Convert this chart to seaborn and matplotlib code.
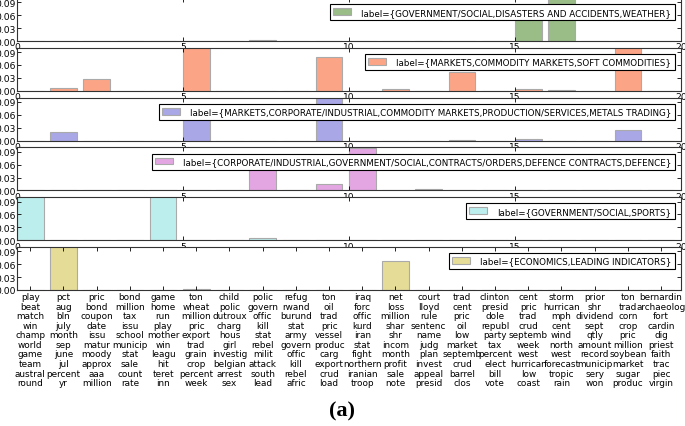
import matplotlib
matplotlib.use("Agg")
import matplotlib.pyplot as plt
from matplotlib.patches import Patch
import seaborn as sns

topics = list(range(20))

labels = [
    "label={GOVERNMENT/SOCIAL,DISASTERS AND ACCIDENTS,WEATHER}",
    "label={MARKETS,COMMODITY MARKETS,SOFT COMMODITIES}",
    "label={MARKETS,CORPORATE/INDUSTRIAL,COMMODITY MARKETS,PRODUCTION/SERVICES,METALS TRADING}",
    "label={CORPORATE/INDUSTRIAL,GOVERNMENT/SOCIAL,CONTRACTS/ORDERS,DEFENCE CONTRACTS,DEFENCE}",
    "label={GOVERNMENT/SOCIAL,SPORTS}",
    "label={ECONOMICS,LEADING INDICATORS}",
]

vals_weather = [0, 0, 0, 0, 0, 0, 0, 0.002, 0, 0, 0, 0, 0, 0, 0, 0.075, 0.14, 0, 0, 0]
vals_soft = [0, 0.006, 0.027, 0, 0, 0.14, 0, 0, 0, 0.079, 0, 0.005, 0, 0.043, 0, 0.005, 0.002, 0, 0.14, 0]
vals_metals = [0, 0.02, 0, 0, 0, 0.07, 0, 0, 0, 0.14, 0, 0, 0, 0.001, 0, 0.003, 0, 0, 0.024, 0]
vals_defence = [0, 0, 0, 0, 0, 0, 0, 0.07, 0, 0.016, 0.098, 0, 0.003, 0, 0.002, 0, 0, 0, 0, 0]
vals_sports = [0.14, 0, 0, 0, 0.14, 0, 0.001, 0.005, 0, 0.001, 0.001, 0, 0.001, 0, 0.001, 0, 0, 0, 0, 0]
vals_econ = [0, 0.14, 0, 0, 0, 0.003, 0, 0, 0, 0, 0, 0.068, 0, 0, 0, 0, 0, 0, 0, 0]

series = [vals_weather, vals_soft, vals_metals, vals_defence, vals_sports, vals_econ]
colors = ["#9abd88", "#fca486", "#a9a7e6", "#e3a6e3", "#bdeeee", "#e5dc97"]

topic_words = [
    ["play", "beat", "match", "win", "champ", "world", "game", "team", "austral", "round"],
    ["pct", "aug", "bln", "july", "month", "sep", "june", "jul", "percent", "yr"],
    ["pric", "bond", "coupon", "date", "issu", "matur", "moody", "approx", "aaa", "million"],
    ["bond", "million", "tax", "issu", "school", "municip", "stat", "sale", "count", "rate"],
    ["game", "home", "run", "play", "mother", "win", "leagu", "hit", "teret", "inn"],
    ["ton", "wheat", "million", "pric", "export", "trad", "grain", "crop", "percent", "week"],
    ["child", "polic", "dutroux", "charg", "hous", "girl", "investig", "belgian", "arrest", "sex"],
    ["polic", "govern", "offic", "kill", "stat", "rebel", "milit", "attack", "south", "lead"],
    ["refug", "rwand", "burund", "stat", "army", "govern", "offic", "kill", "rebel", "afric"],
    ["ton", "oil", "trad", "pric", "vessel", "produc", "carg", "export", "crud", "load"],
    ["iraq", "forc", "offic", "kurd", "iran", "stat", "fight", "northern", "iranian", "troop"],
    ["net", "loss", "million", "shar", "shr", "incom", "month", "profit", "sale", "note"],
    ["court", "lloyd", "rule", "sentenc", "name", "judg", "plan", "invest", "appeal", "presid"],
    ["trad", "cent", "pric", "oil", "low", "market", "septemb", "crud", "barrel", "clos"],
    ["clinton", "presid", "dole", "republ", "party", "tax", "percent", "elect", "bill", "vote"],
    ["cent", "pric", "trad", "crud", "septemb", "week", "west", "hurrican", "low", "coast"],
    ["storm", "hurrican", "mph", "cent", "wind", "north", "west", "forecast", "tropic", "rain"],
    ["prior", "shr", "dividend", "sept", "qtly", "amount", "record", "municip", "sery", "won"],
    ["ton", "trad", "corn", "crop", "pric", "million", "soybean", "market", "sugar", "produc"],
    ["bernardin", "archaeolog", "fort", "cardin", "dig", "priest", "faith", "trac", "piec", "virgin"],
]

xtick_labels = ["0", "5", "10", "15", "20"]
ytick_vals = [0.0, 0.03, 0.06, 0.09]
ytick_labels = ["0.00", "0.03", "0.06", "0.09"]

plt.rcParams.update({
    "font.family": ["DejaVu Sans"],
    "xtick.direction": "in",
    "ytick.direction": "in",
    "xtick.top": True,
    "ytick.right": True,
    "axes.linewidth": 0.8,
    "axes.edgecolor": "#333333",
})

W, H = 685, 427
fig = plt.figure(figsize=(W / 100, H / 100), dpi=100)
left_px, width_px = 17, 664
tops = [-1, 48.8, 98.6, 148.4, 198.2, 248]
height_px = 43

for k, (vals, col, lab) in enumerate(zip(series, colors, labels)):
    top = tops[k]
    ax = fig.add_axes([left_px / W, 1 - (top + height_px) / H, width_px / W, height_px / H])
    sns.barplot(x=topics, y=vals, color=col, saturation=1, width=0.8,
                edgecolor="#aaaaaa", linewidth=0.8, ax=ax)
    ax.set_xlim(-0.4, 19.6)
    ax.set_ylim(0, 0.1)
    ax.set_yticks(ytick_vals)
    ax.set_yticklabels(ytick_labels, fontsize=6.6)
    ax.tick_params(axis="y", length=3, width=0.6, pad=1)
    ax.set_xlabel("")
    ax.set_ylabel("")
    if k < 5:
        ax.set_xticks([-0.4, 4.6, 9.6, 14.6, 19.6])
        ax.set_xticklabels(xtick_labels, fontsize=6.6)
        ax.tick_params(axis="x", length=3, width=0.6, pad=1)
    else:
        ax.set_xticks(topics)
        ax.set_xticklabels(["\n".join(w) for w in topic_words], fontsize=6.4,
                           linespacing=1.08, va="top")
        ax.tick_params(axis="x", length=3, width=0.6, pad=1.5)
    handle = Patch(facecolor=col, edgecolor="#aaaaaa", linewidth=0.8)
    leg = ax.legend([handle], [lab], loc="upper right", fontsize=6.3,
                    fancybox=False, framealpha=1, edgecolor="black",
                    borderpad=0.4, handlelength=2.0, handleheight=0.8,
                    handletextpad=1.2, borderaxespad=0.7)
    leg.get_frame().set_linewidth(0.8)

fig.text(0.5, 1 - 411 / H, "(a)", ha="center", va="center", fontsize=16,
         fontweight="bold", family=["Liberation Serif", "DejaVu Serif"])

fig.savefig("out.png", dpi=100)
